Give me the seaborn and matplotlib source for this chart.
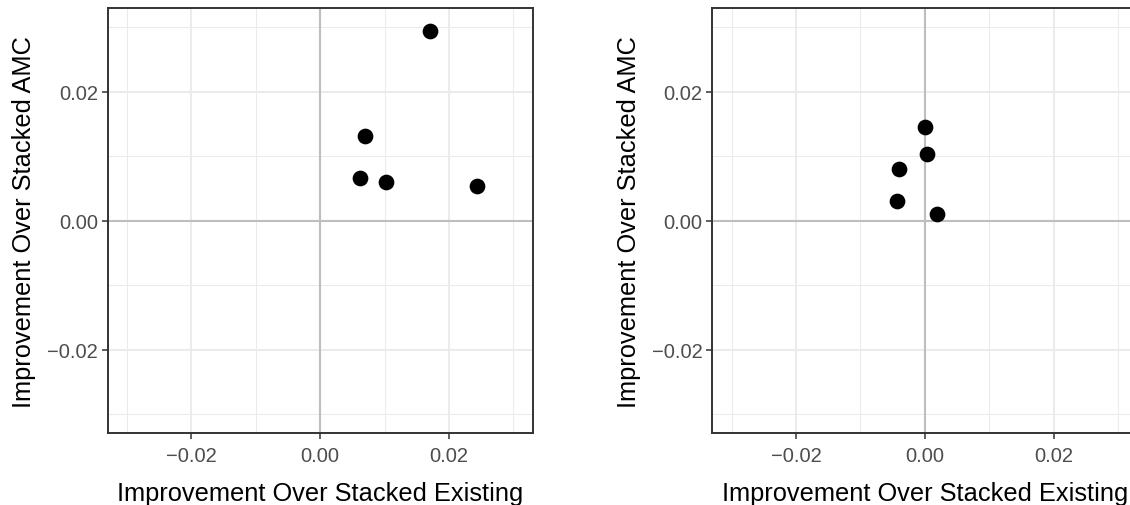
import matplotlib
matplotlib.use("Agg")
import matplotlib.pyplot as plt
import seaborn as sns
import numpy as np

# Data
left_x = [0.0171, 0.0070, 0.0062, 0.0102, 0.0243]
left_y = [0.0294, 0.0132, 0.0066, 0.0060, 0.0053]
right_x = [0.0001, 0.0003, -0.0040, -0.0043, 0.0019]
right_y = [0.0145, 0.0104, 0.0080, 0.0030, 0.0011]

x_label = "Improvement Over Stacked Existing"
y_label = "Improvement Over Stacked AMC"
major_ticks = [-0.02, 0.0, 0.02]
tick_labels = ["\u22120.02", "0.00", "0.02"]
minor_ticks = [-0.03, -0.01, 0.01, 0.03]
lim = (-0.033, 0.033)

sns.set_theme(style="white")
plt.rcParams["font.family"] = ["Liberation Sans", "DejaVu Sans"]

W, H = 1130, 506
fig = plt.figure(figsize=(W / 100, H / 100), dpi=100)

def add_panel(left_px, xs, ys):
    ax = fig.add_axes([left_px / W, (H - 434.3) / H, 425 / W, 425.3 / H])
    ax.set_xlim(lim)
    ax.set_ylim(lim)
    # grid
    for v in minor_ticks:
        ax.axvline(v, color="#EBEBEB", lw=0.75, zorder=0)
        ax.axhline(v, color="#EBEBEB", lw=0.75, zorder=0)
    for v in major_ticks:
        ax.axvline(v, color="#EBEBEB", lw=1.5, zorder=0)
        ax.axhline(v, color="#EBEBEB", lw=1.5, zorder=0)
    ax.axhline(0, color="#BEBEBE", lw=1.5, zorder=1)
    ax.axvline(0, color="#BEBEBE", lw=1.5, zorder=1)
    sns.scatterplot(x=xs, y=ys, ax=ax, color="black", s=128, linewidth=0,
                    edgecolor=None, zorder=3, legend=False)
    ax.set_xticks(major_ticks)
    ax.set_xticklabels(tick_labels)
    ax.set_yticks(major_ticks)
    ax.set_yticklabels(tick_labels)
    ax.tick_params(axis="both", which="major", length=4, width=1.1,
                   color="#333333", labelcolor="#4D4D4D", labelsize=14.5,
                   direction="out", bottom=True, left=True)
    ax.tick_params(axis="x", pad=5)
    ax.tick_params(axis="y", pad=3)
    for sp in ax.spines.values():
        sp.set_color("#333333")
        sp.set_linewidth(1.4)
        sp.set_zorder(5)
    ax.set_xlabel(x_label, fontsize=18.3, color="black", labelpad=12)
    ax.set_ylabel(y_label, fontsize=18.3, color="black", labelpad=8)
    ax.grid(False)
    return ax

add_panel(107.7, left_x, left_y)
add_panel(712.3, right_x, right_y)

fig.savefig("out.png", dpi=100)
